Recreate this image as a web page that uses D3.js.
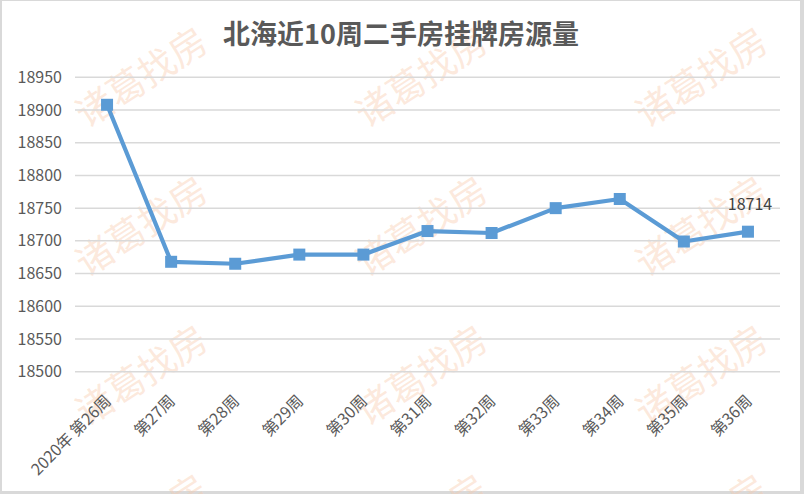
<!DOCTYPE html>
<html><head><meta charset="utf-8">
<script src="https://cdn.jsdelivr.net/npm/d3@7"></script>
<style>body{margin:0;background:#fff}svg{display:block}</style>
</head><body><svg id="c" width="804" height="494"></svg>
<script>
const title = "北海近10周二手房挂牌房源量";
const categories = ["2020年 第26周","第27周","第28周","第29周","第30周","第31周","第32周","第33周","第34周","第35周","第36周"];
const values = [18908,18668,18665,18679,18679,18715,18712,18750,18764,18699,18714];
const yTicks = [18500,18550,18600,18650,18700,18750,18800,18850,18900,18950];
const labelledIndex = [10];
const watermark = "诸葛找房";
const wmCols = [140, 420, 700];
const wmRows = [75, 224, 373, 522];

const W = 804, H = 494;
const svg = d3.select("#c");
const font = "'Noto Sans CJK SC','Noto Sans',sans-serif";

svg.append("rect").attr("width", W).attr("height", H).attr("fill", "#d9d9d9");
svg.append("rect").attr("x", 2).attr("y", 1).attr("width", 798).attr("height", 490).attr("fill", "#fff");

// watermark
const wm = svg.append("g");
wmRows.forEach(r => wmCols.forEach(c => {
  wm.append("text").attr("transform", `translate(${c},${r}) rotate(-33)`)
    .attr("text-anchor", "middle").attr("dominant-baseline", "central")
    .attr("font-family", font).attr("font-size", 37)
    .attr("fill", "#F8CBAD").attr("fill-opacity", 0.42).text(watermark);
}));

const x = d3.scaleBand().domain(categories).range([75, 780]);
const y = d3.scaleLinear().domain([18500, 18950]).range([371.7, 77.3]);
const cx = d => x(d) + x.bandwidth() / 2;

// gridlines
svg.append("g").selectAll("line").data(yTicks).join("line")
  .attr("x1", 75).attr("x2", 780)
  .attr("y1", d => y(d)).attr("y2", d => y(d))
  .attr("stroke", "#d9d9d9").attr("stroke-width", 1.5);

// y axis labels
const yAxis = d3.axisLeft(y).tickValues(yTicks).tickSize(0).tickPadding(0).tickFormat(d3.format("d"));
const ya = svg.append("g").attr("transform", "translate(62,0)").call(yAxis);
ya.select(".domain").remove();
ya.selectAll("text").attr("font-family", font).attr("font-size", 16).attr("fill", "#595959");

// x axis labels
const xAxis = d3.axisBottom(x).tickSize(0).tickPadding(0);
const xa = svg.append("g").call(xAxis);
xa.select(".domain").remove();
xa.selectAll(".tick").attr("transform", d => `translate(${cx(d) + 5},402)`);
xa.selectAll("text").attr("font-family", font).attr("font-size", 16).attr("fill", "#595959")
  .attr("text-anchor", "end").attr("dy", 0).attr("y", 0).attr("x", 0)
  .attr("transform", "rotate(-45)");

// line
const data = categories.map((c, i) => ({c, v: values[i]}));
svg.append("path").datum(data)
  .attr("d", d3.line().x(d => cx(d.c)).y(d => y(d.v)))
  .attr("fill", "none").attr("stroke", "#5B9BD5").attr("stroke-width", 4.2).attr("stroke-linejoin", "round");
const ms = 12;
svg.append("g").selectAll("rect").data(data).join("rect")
  .attr("x", d => cx(d.c) - ms / 2).attr("y", d => y(d.v) - ms / 2)
  .attr("width", ms).attr("height", ms).attr("fill", "#5B9BD5");

// data label
svg.append("g").selectAll("text").data(labelledIndex.map(i => data[i])).join("text")
  .attr("x", d => cx(d.c) + 2).attr("y", d => y(d.v) - 22)
  .attr("text-anchor", "middle").attr("font-family", font).attr("font-size", 16)
  .attr("fill", "#404040").text(d => d.v);

// title
svg.append("text").attr("x", 401).attr("y", 44).attr("text-anchor", "middle")
  .attr("font-family", font).attr("font-size", 27).attr("font-weight", "bold")
  .attr("fill", "#595959").text(title);
</script></body></html>
